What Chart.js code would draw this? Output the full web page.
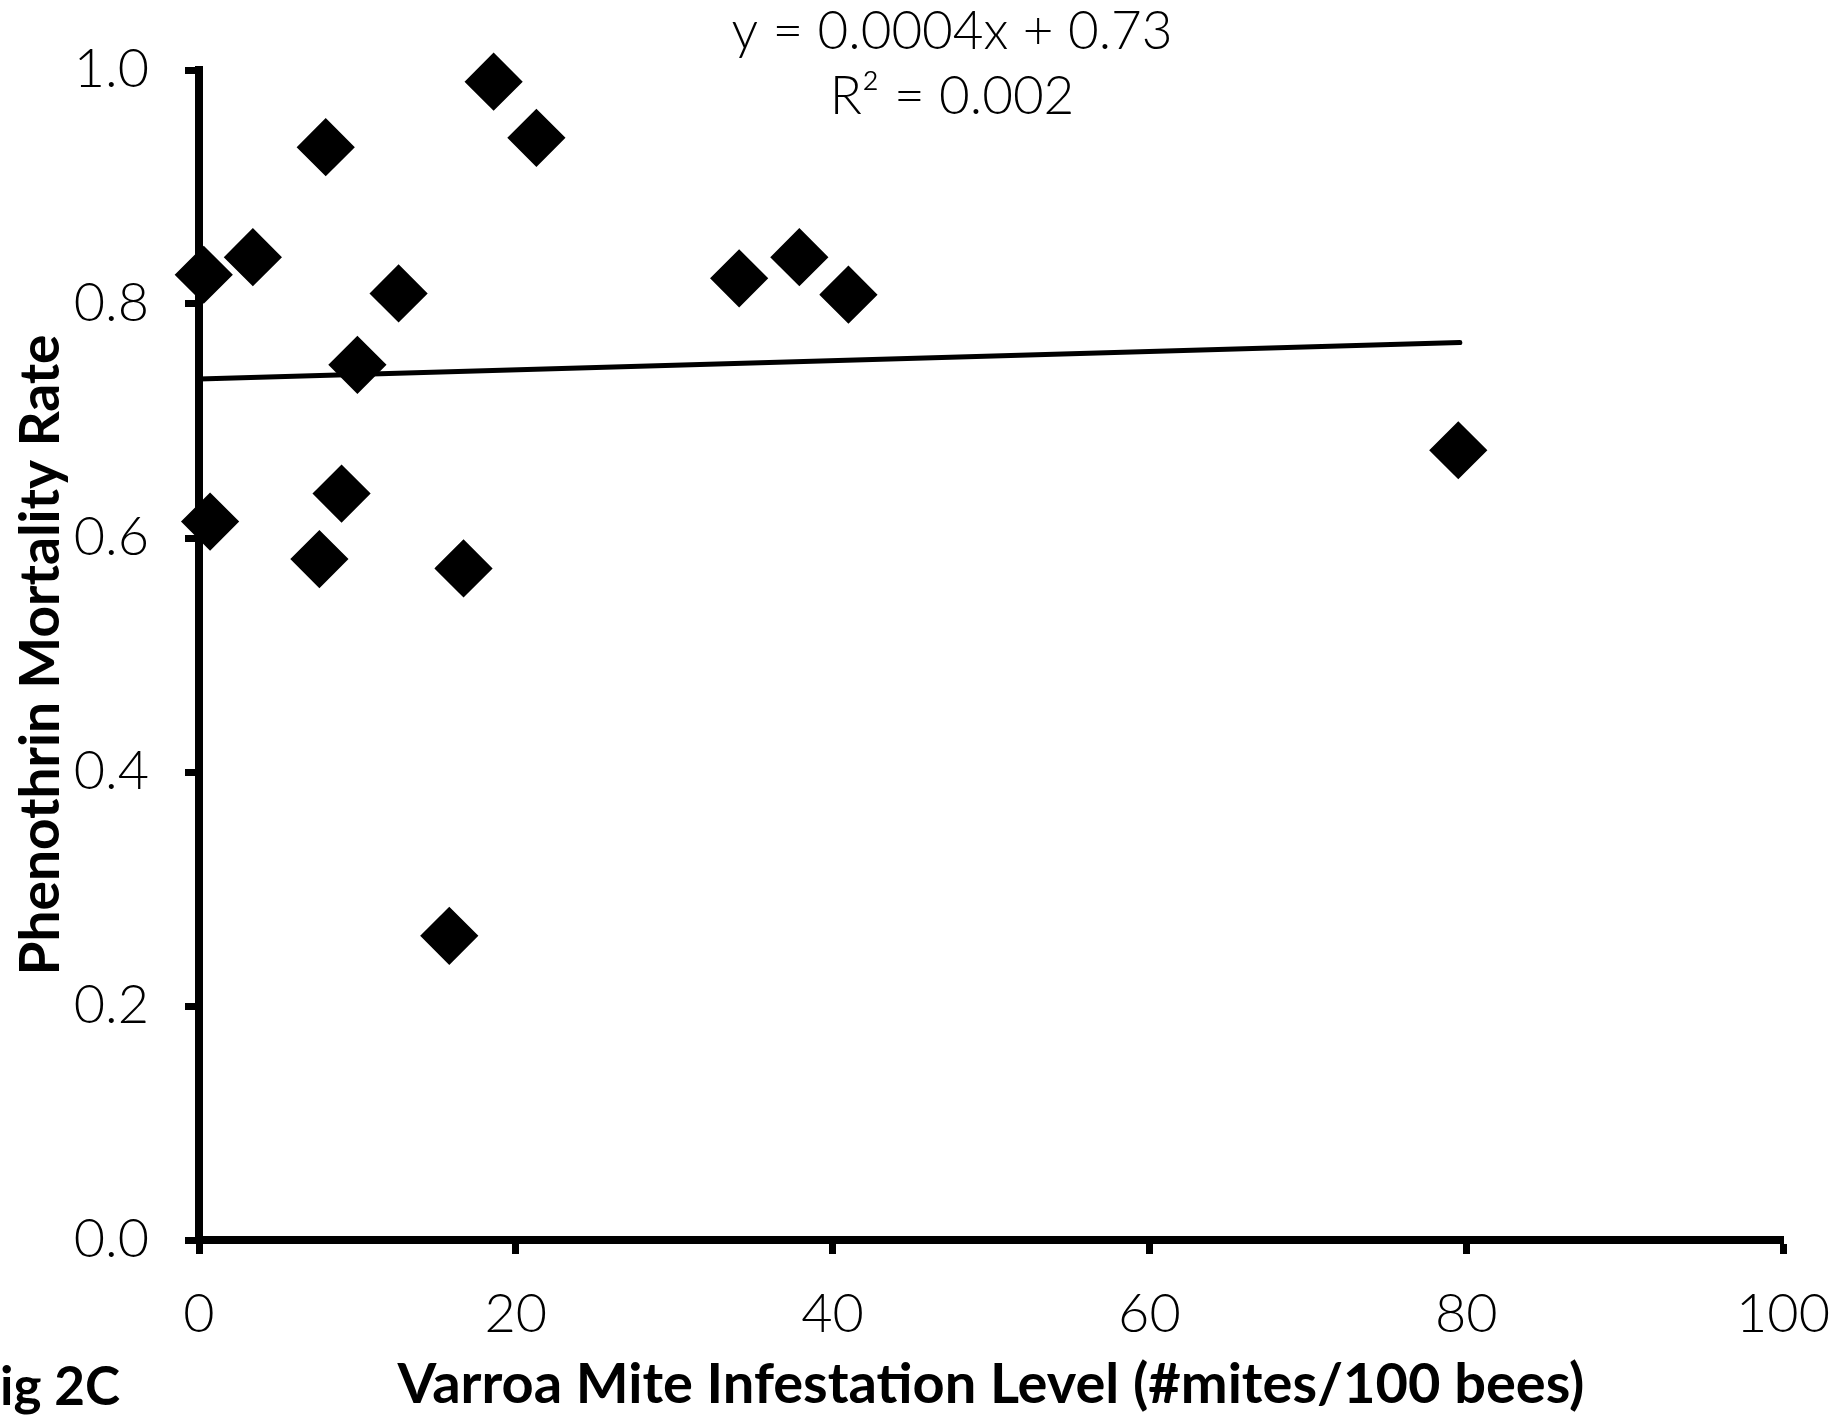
<!DOCTYPE html>
<html>
<head>
<meta charset="utf-8">
<script src="https://cdn.jsdelivr.net/npm/chart.js@4/dist/chart.umd.min.js"></script>
<style>
    html, body { margin: 0; padding: 0; background: #fff; overflow: hidden; }
    #chart { display: block; }
</style>
</head>
<body>
<canvas id="chart" width="1839" height="1421"></canvas>
<script>
// colonies: mites per 100 bees vs phenothrin mortality
const mitesPerHundred = [0.3, 3.4, 8.0, 18.6, 21.3, 12.6, 10.0, 0.7, 9.0, 7.6, 16.7, 15.8, 34.1, 37.9, 41.0, 79.5];
const mortalityRate = [0.825, 0.840, 0.934, 0.990, 0.942, 0.809, 0.748, 0.614, 0.638, 0.582, 0.574, 0.260, 0.822, 0.840, 0.808, 0.675];

// linear trend line as drawn in the figure
const trendX = [0, 79.6];
const trendY = [0.736, 0.767];
const trendLabel = ['y = 0.0004x + 0.73', 'R\u00b2 = 0.002'];

const xTitle = 'Varroa Mite Infestation Level (#mites/100 bees)';
const yTitle = 'Phenothrin Mortality Rate';
const figLabel = 'Fig 2C';

const lightFont = 'Lato, "Open Sans", sans-serif';

// text that sits outside the axes
const annotations = {
    id: 'annotations',
    afterDraw(chart) {
        const ctx = chart.ctx;
        ctx.save();
        ctx.fillStyle = '#000';
        ctx.textAlign = 'center';
        ctx.textBaseline = 'alphabetic';
        ctx.font = '300 53px ' + lightFont;
        ctx.fillText(trendLabel[0], 952, 49);
        ctx.fillText(trendLabel[1], 952, 114);

        // the F is cut off at the left edge in the original
        ctx.font = 'bold 53px ' + lightFont;
        ctx.textAlign = 'left';
        const cut = ctx.measureText(figLabel.charAt(0)).width;
        ctx.fillText(figLabel, -cut, 1405);
        ctx.restore();
    }
};

const axisStyle = {
    border: { display: true, color: '#000', width: 8 },
    grid: {
        display: true,
        drawOnChartArea: false,
        drawTicks: true,
        tickLength: 14,
        tickWidth: 7,
        tickColor: '#000',
    },
};

new Chart(document.getElementById('chart'), {
    type: 'scatter',
    data: {
        datasets: [
            {
                label: 'colonies',
                data: mitesPerHundred.map((x, i) => ({ x, y: mortalityRate[i] })),
                pointStyle: 'rectRot',
                pointRadius: 27,
                pointHoverRadius: 27,
                borderWidth: 3,
                borderColor: '#000',
                backgroundColor: '#000',
                clip: false,
            },
            {
                label: 'trend',
                data: trendX.map((x, i) => ({ x, y: trendY[i] })),
                showLine: true,
                pointRadius: 0,
                borderColor: '#000',
                borderWidth: 5,
                borderCapStyle: 'round',
                clip: false,
            },
        ],
    },
    options: {
        responsive: false,
        animation: false,
        devicePixelRatio: 1,
        layout: {
            padding: { left: 0, top: 70, right: 56, bottom: 0 },
        },
        plugins: {
            legend: { display: false },
            tooltip: { enabled: false },
        },
        scales: {
            x: {
                type: 'linear',
                min: 0,
                max: 100,
                ...axisStyle,
                ticks: {
                    stepSize: 20,
                    color: '#000',
                    padding: 28,
                    maxRotation: 0,
                    font: { family: lightFont, size: 54, weight: 300 },
                },
                title: {
                    display: true,
                    text: xTitle,
                    color: '#000',
                    padding: { top: 0, bottom: 8 },
                    font: { family: lightFont, size: 56, weight: 'bold', lineHeight: 1 },
                },
                afterFit: scale => {
                    scale.height = 181;
                    scale.paddingLeft = 0;
                    scale.paddingRight = 0;
                },
            },
            y: {
                type: 'linear',
                min: 0,
                max: 1,
                ...axisStyle,
                ticks: {
                    stepSize: 0.2,
                    color: '#000',
                    padding: 36,
                    callback: v => v.toFixed(1),
                    font: { family: lightFont, size: 54, weight: 300 },
                },
                title: {
                    display: true,
                    text: yTitle,
                    color: '#000',
                    padding: { top: 14, bottom: 0 },
                    font: { family: lightFont, size: 55, weight: 'bold', lineHeight: 1 },
                },
                afterFit: scale => {
                    scale.width = 199;
                    scale.paddingTop = 0;
                    scale.paddingBottom = 0;
                },
            },
        },
    },
    plugins: [annotations],
});
</script>
</body>
</html>
